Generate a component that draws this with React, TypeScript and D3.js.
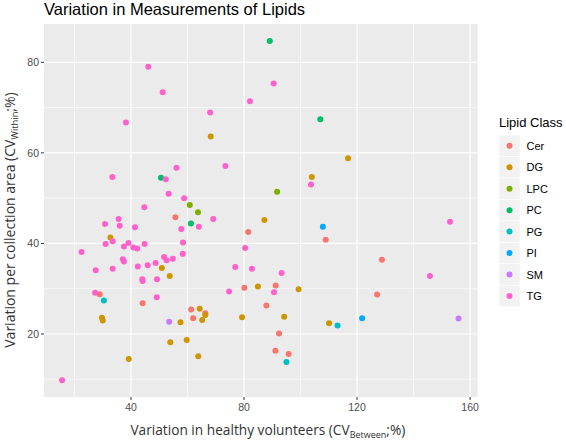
import React from "react";
import * as d3 from "d3";

type P = [number, number];

const classes = ["Cer", "DG", "LPC", "PC", "PG", "PI", "SM", "TG"];
const colors = ["#F8766D", "#CD9600", "#7CAE00", "#00BE67", "#00BFC4", "#00A9FF", "#C77CFF", "#FF61CC"];

const cerPts: P[] = [[55.7,45.8],[81.5,42.5],[80.1,30.2],[28.9,28.8],[44.1,26.8],[87.9,26.3],[61.3,25.4],[66.3,24.6],[62.0,23.5],[108.9,40.8],[128.8,36.4],[91.2,30.7],[127.1,28.7],[92.4,20.1],[91.1,16.3],[95.8,15.6]];
const dgPts: P[] = [[68.2,63.6],[116.8,58.8],[104.0,54.7],[87.2,45.2],[32.7,41.3],[50.9,34.6],[53.7,32.8],[84.9,30.5],[64.3,25.6],[66.3,24.2],[65.2,23.1],[79.3,23.7],[29.7,23.6],[30.0,23.0],[57.5,22.6],[53.9,18.2],[59.7,18.7],[63.8,15.1],[39.2,14.5],[99.3,29.9],[94.2,23.8],[110.1,22.4]];
const lpcPts: P[] = [[60.8,48.5],[63.7,46.9],[91.7,51.4]];
const pcPts: P[] = [[89.1,84.7],[50.6,54.5],[107.0,67.4],[61.2,44.4]];
const pgPts: P[] = [[30.4,27.4],[113.1,21.9],[95.0,13.8]];
const piPts: P[] = [[107.9,43.7],[121.8,23.5]];
const smPts: P[] = [[53.5,22.7],[155.9,23.4]];
const tgPts: P[] = [[46.1,79.0],[51.2,73.4],[82.1,71.4],[68.0,68.9],[38.2,66.7],[56.1,56.7],[73.4,57.1],[33.4,54.7],[52.3,54.2],[53.3,51.0],[58.8,50.0],[90.5,75.3],[103.7,53.0],[44.7,48.0],[35.6,45.4],[69.1,45.4],[30.8,44.3],[36.0,43.9],[64.0,43.7],[41.4,43.6],[57.8,43.2],[33.5,40.5],[31.0,39.9],[39.1,40.1],[44.8,39.9],[58.4,40.2],[37.5,39.3],[40.8,39.1],[42.2,38.9],[80.4,39.0],[22.5,38.1],[58.3,37.7],[51.7,37.0],[52.6,36.3],[54.8,36.6],[37.1,36.5],[37.5,36.0],[48.7,35.7],[45.9,35.2],[42.4,34.9],[33.5,34.4],[27.5,34.1],[76.9,34.8],[82.8,34.4],[44.0,32.1],[44.1,31.7],[49.2,32.1],[74.7,29.4],[27.3,29.1],[49.1,28.1],[15.6,9.8],[152.9,44.8],[145.8,32.8],[93.3,33.5],[90.6,29.2]];

const seriesPts: P[][] = [cerPts, dgPts, lpcPts, pcPts, pgPts, piPts, smPts, tgPts];

const xMajor = [40, 80, 120, 160];
const xMinor = [20, 60, 100, 140];
const yMajor = [20, 40, 60, 80];
const yMinor = [10, 30, 50, 70];

const W = 566, H = 440;
const L = 44, R = 477.7, T = 24, B = 397;

export default function App() {
  const x = d3.scaleLinear().domain([9.2, 162.7]).range([L, R]);
  const y = d3.scaleLinear().domain([6.09, 88.46]).range([B, T]);
  const tickFont = "'Liberation Sans', Arial, sans-serif";
  const titleFont = "'Open Sans', sans-serif";
  const legY0 = 145.8, legStep = 21.45;
  return (
    <svg width={W} height={H} style={{ position: "absolute", left: 0, top: 0, background: "#fff" }}>
      <text x={44} y={15} fontFamily={tickFont} fontSize={16.5} fill="#000">Variation in Measurements of Lipids</text>
      <rect x={L} y={T} width={R - L} height={B - T} fill="#EBEBEB" />
      {xMinor.map((v) => (
        <line key={"xm" + v} x1={x(v)} x2={x(v)} y1={T} y2={B} stroke="#fff" strokeWidth={0.6} />
      ))}
      {yMinor.map((v) => (
        <line key={"ym" + v} x1={L} x2={R} y1={y(v)} y2={y(v)} stroke="#fff" strokeWidth={0.6} />
      ))}
      {xMajor.map((v) => (
        <line key={"xM" + v} x1={x(v)} x2={x(v)} y1={T} y2={B} stroke="#fff" strokeWidth={1.2} />
      ))}
      {yMajor.map((v) => (
        <line key={"yM" + v} x1={L} x2={R} y1={y(v)} y2={y(v)} stroke="#fff" strokeWidth={1.2} />
      ))}
      {seriesPts.map((pts, i) =>
        pts.map((p, j) => (
          <circle key={classes[i] + j} cx={x(p[0])} cy={y(p[1])} r={3} fill={colors[i]} />
        ))
      )}
      {xMajor.map((v) => (
        <g key={"xt" + v}>
          <line x1={x(v)} x2={x(v)} y1={B} y2={B + 3} stroke="#333" strokeWidth={1} />
          <text x={x(v)} y={B + 14} textAnchor="middle" fontFamily={tickFont} fontSize={10.5} fill="#4D4D4D">{v}</text>
        </g>
      ))}
      {yMajor.map((v) => (
        <g key={"yt" + v}>
          <line x1={L - 3} x2={L} y1={y(v)} y2={y(v)} stroke="#333" strokeWidth={1} />
          <text x={L - 5} y={y(v) + 3.7} textAnchor="end" fontFamily={tickFont} fontSize={10.5} fill="#4D4D4D">{v}</text>
        </g>
      ))}
      <text x={(L + R) / 2 + 7} y={435} textAnchor="middle" fontFamily={titleFont} fontSize={13.7} fill="#333">
        Variation in healthy volunteers (CV<tspan fontSize={9} dy={3}>Between</tspan><tspan dy={-3}>;%)</tspan>
      </text>
      <text transform={`translate(15, 220) rotate(-90)`} textAnchor="middle" fontFamily={titleFont} fontSize={14} fill="#333">
        Variation per collection area (CV<tspan fontSize={9.3} dy={3}>Within</tspan><tspan dy={-3}>;%)</tspan>
      </text>
      <text x={499} y={126.5} fontFamily={tickFont} fontSize={13} fill="#000">Lipid Class</text>
      {classes.map((c, i) => (
        <g key={"leg" + c}>
          <rect x={499} y={legY0 + i * legStep - legStep / 2} width={21} height={legStep} fill="#F2F2F2" stroke="#fff" strokeWidth={0.5} />
          <circle cx={509.5} cy={legY0 + i * legStep} r={3} fill={colors[i]} />
          <text x={526.5} y={legY0 + i * legStep + 4} fontFamily={tickFont} fontSize={11} fill="#000">{c}</text>
        </g>
      ))}
    </svg>
  );
}
